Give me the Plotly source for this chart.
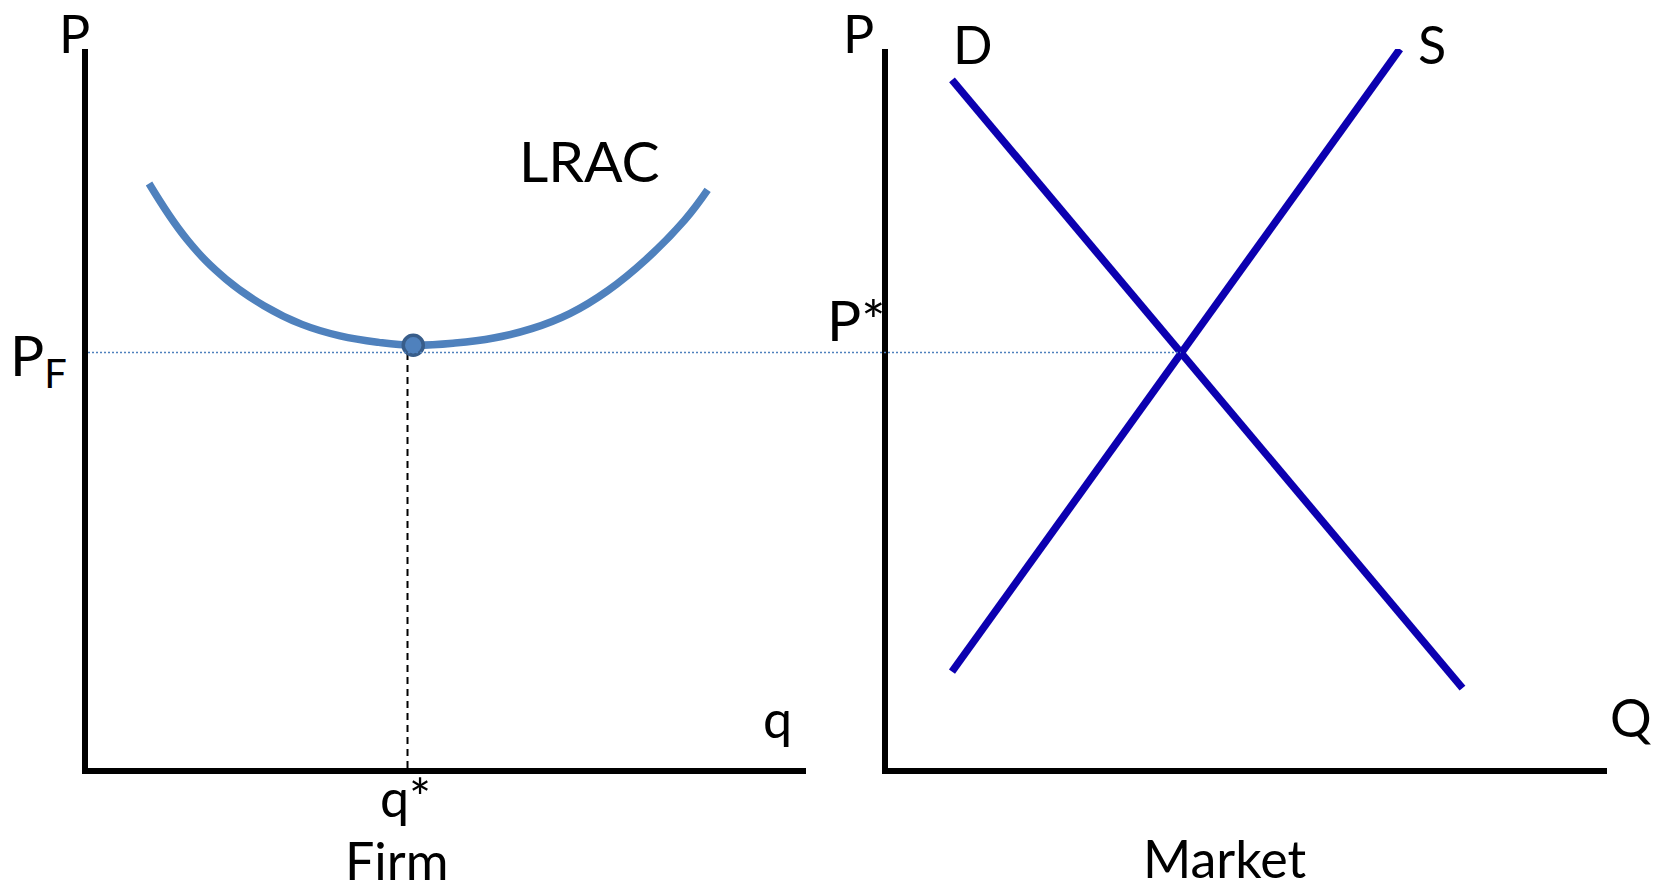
import plotly.graph_objects as go

W, H = 1655, 893

# ---- Firm panel data (q, P units 0..10) ----
lrac_q = [0.85, 1.38, 1.92, 2.45, 2.98, 3.51, 4.05, 4.53, 5.11, 5.65, 6.18, 6.71, 7.24, 7.78, 8.31, 8.63]
lrac_p = [8.13, 7.35, 6.80, 6.43, 6.17, 6.01, 5.92, 5.88, 5.91, 5.98, 6.11, 6.32, 6.64, 7.08, 7.62, 8.04]
min_q = [4.53]
min_p = [5.88]
q_star = 4.45
p_f = 5.78

# ---- Market panel data (Q, P units 0..10) ----
demand_Q = [0.89, 7.99]
demand_P = [9.57, 1.11]
supply_Q = [0.89, 7.12]
supply_P = [1.34, 10.0]

# ---- Labels ----
labels = ["P", "P<sub>F</sub>", "LRAC", "q", "q*", "Firm", "P", "D", "S", "P*", "Q", "Market"]

LRAC_COLOR = "#4f81bd"
DS_COLOR = "#0c00b0"
FONT = "Lato"

firm_dom = [88 / W, 806 / W]
mkt_dom = [888 / W, 1607 / W]
y_dom = [1 - 768 / H, 1 - 49 / H]

# intersection of D and S (market units)
sd = (demand_P[1] - demand_P[0]) / (demand_Q[1] - demand_Q[0])
ss = (supply_P[1] - supply_P[0]) / (supply_Q[1] - supply_Q[0])
Q_eq = (supply_P[0] - demand_P[0] + sd * demand_Q[0] - ss * supply_Q[0]) / (sd - ss)

# overlay axis spanning both panels, same units as firm panel
unit = (firm_dom[1] - firm_dom[0]) / 10
x3_max = (mkt_dom[1] - firm_dom[0]) / unit
mkt_offset = (mkt_dom[0] - firm_dom[0]) / unit

fig = go.Figure()

fig.add_trace(go.Scatter(x=[0, mkt_offset + Q_eq], y=[p_f, p_f], xaxis="x3", yaxis="y",
                         mode="lines", line=dict(color=LRAC_COLOR, width=1.5, dash="2px,2px"),
                         hoverinfo="skip"))
fig.add_trace(go.Scatter(x=[q_star, q_star], y=[0, p_f], xaxis="x", yaxis="y", mode="lines",
                         line=dict(color="black", width=2, dash="7px,5px"), hoverinfo="skip"))
fig.add_trace(go.Scatter(x=lrac_q, y=lrac_p, xaxis="x", yaxis="y", mode="lines",
                         line=dict(color=LRAC_COLOR, width=7.5, shape="spline", smoothing=1.2)))
fig.add_trace(go.Scatter(x=min_q, y=min_p, xaxis="x", yaxis="y", mode="markers",
                         marker=dict(size=20, color=LRAC_COLOR, line=dict(color="#385d8a", width=3.5))))
fig.add_trace(go.Scatter(x=demand_Q, y=demand_P, xaxis="x2", yaxis="y2", mode="lines",
                         line=dict(color=DS_COLOR, width=7.5)))
fig.add_trace(go.Scatter(x=supply_Q, y=supply_P, xaxis="x2", yaxis="y2", mode="lines",
                         line=dict(color=DS_COLOR, width=7.5)))

ax = dict(showline=True, linewidth=6, linecolor="black", showgrid=False, zeroline=False,
          showticklabels=False, ticks="", fixedrange=True)

ann = []
def add(text, cx, cy, size, yanchor="middle"):
    ann.append(dict(text=text, x=cx / W, y=1 - cy / H, xref="paper", yref="paper", showarrow=False,
                    xanchor="center", yanchor=yanchor,
                    font=dict(family=FONT, size=size, color="black")))

add(labels[0], 74, 0, 52, "top")
add(labels[1], 38, 358, 57)
add(labels[2], 589, 160, 57)
add(labels[3], 777, 718, 52)
add(labels[4], 405, 797, 52)
add(labels[5], 396, H, 52, "bottom")
add(labels[6], 858, 0, 52, "top")
add(labels[7], 973, 44, 52)
add(labels[8], 1432, 44, 52)
add(labels[9], 856, 319, 57)
add(labels[10], 1631, 717, 52)
add(labels[11], 1224, 858, 52)

fig.update_layout(
    width=W, height=H, margin=dict(l=0, r=0, t=0, b=0),
    paper_bgcolor="white", plot_bgcolor="rgba(0,0,0,0)",
    showlegend=False,
    xaxis=dict(domain=firm_dom, range=[0, 10], anchor="y", **ax),
    yaxis=dict(domain=y_dom, range=[0, 10], anchor="x", **ax),
    xaxis2=dict(domain=mkt_dom, range=[0, 10], anchor="y2", **ax),
    yaxis2=dict(domain=y_dom, range=[0, 10], anchor="x2", **ax),
    xaxis3=dict(domain=[firm_dom[0], mkt_dom[1]], range=[0, x3_max], anchor="y", visible=False,
                fixedrange=True),
    annotations=ann,
)

fig.write_html("out.html", config={"displayModeBar": False},
               post_script="document.body.style.margin='0';document.body.style.overflow='hidden';")
